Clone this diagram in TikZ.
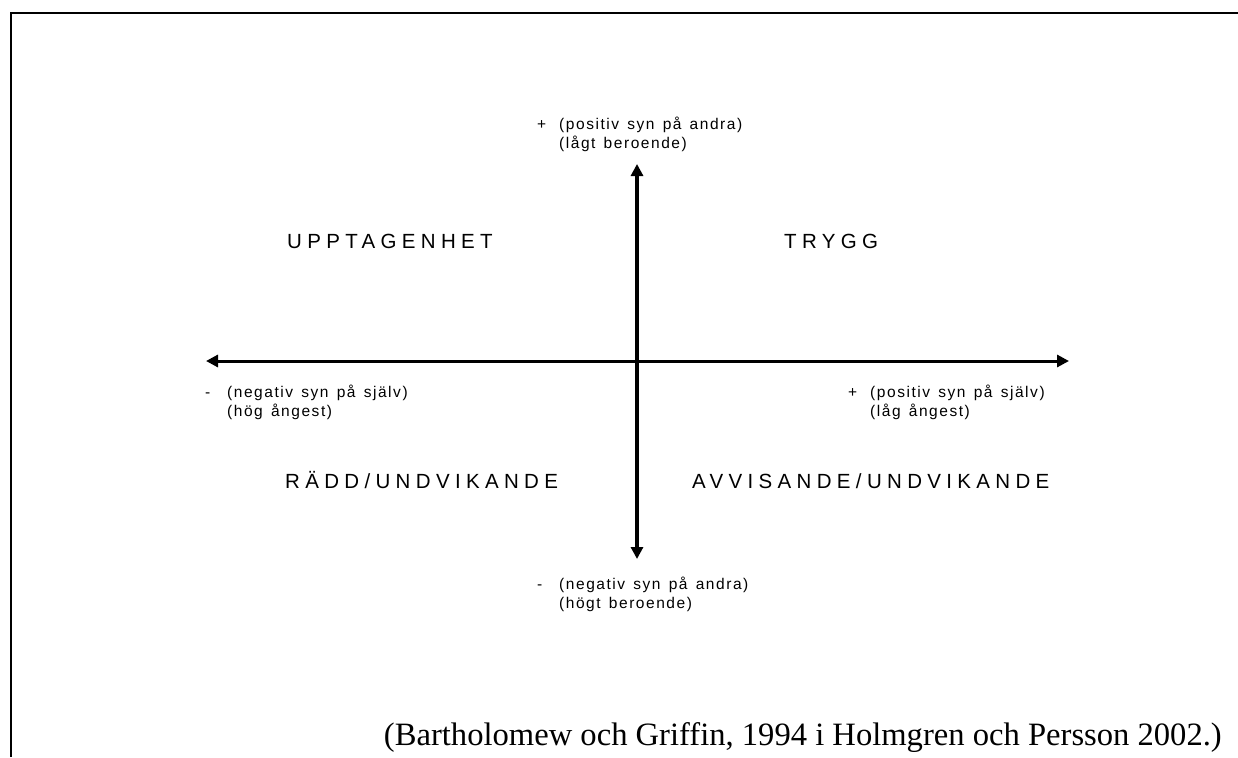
\documentclass[tikz,border=0pt]{standalone}
\usepackage{fontspec}
\usetikzlibrary{arrows.meta}
\newfontfamily\lblfont[LetterSpace=10,WordSpace=1.4]{Liberation Sans}
\newfontfamily\quadfont[LetterSpace=26,WordSpace=1.4]{Liberation Sans}
\newfontfamily\citefont{Liberation Serif}
\tikzset{
  axis/.style={line width=3pt, {Triangle[length=12pt,width=12pt]}-{Triangle[length=12pt,width=12pt]}},
  pole/.style={anchor=base west, inner sep=0pt, font=\lblfont\fontsize{15.5}{19}\selectfont},
  quad/.style={anchor=base west, inner sep=0pt, font=\quadfont\fontsize{20.5}{24}\selectfont},
  cite/.style={anchor=base east, inner sep=0pt, font=\citefont\fontsize{32.6}{38}\selectfont},
  frame/.style={line width=2.5pt}
}
\newcommand{\polelabel}[3]{\begin{tabular}[t]{@{}p{22pt}@{}l@{}}#1 & #2\\ & #3\end{tabular}}
\begin{document}
\begin{tikzpicture}[x=1pt,y=-1pt]
\useasboundingbox (0,0) rectangle (1238,757);
\fill[white] (0,0) rectangle (1238,757);
% frame (top and left edges)
\draw[frame] (11,757) -- (11,13) -- (1238,13);
% axis end points
\coordinate (L) at (206,361);
\coordinate (R) at (1069,361);
\coordinate (T) at (637,164);
\coordinate (B) at (637,559);
\draw[axis] (L) -- (R);
\draw[axis, line width=3.5pt] (T) -- (B);
% pole labels
\node[pole] (top) at (537,129) {\polelabel{+}{(positiv syn på andra)}{(lågt beroende)}};
\node[pole] (left) at (205,397) {\polelabel{-}{(negativ syn på själv)}{(hög ångest)}};
\node[pole] (right) at (848,397) {\polelabel{+}{(positiv syn på själv)}{(låg ångest)}};
\node[pole] (bottom) at (537,589) {\polelabel{-}{(negativ syn på andra)}{(högt beroende)}};
% quadrant labels
\node[quad] (q1) at (287,248) {UPPTAGENHET};
\node[quad] (q2) at (784,248) {TRYGG};
\node[quad] (q3) at (285,488) {RÄDD/UNDVIKANDE};
\node[quad] (q4) at (692,488) {AVVISANDE/UNDVIKANDE};
% citation
\node[cite] (src) at (1222,745) {(Bartholomew och Griffin, 1994 i Holmgren och Persson 2002.)};
\end{tikzpicture}
\end{document}
